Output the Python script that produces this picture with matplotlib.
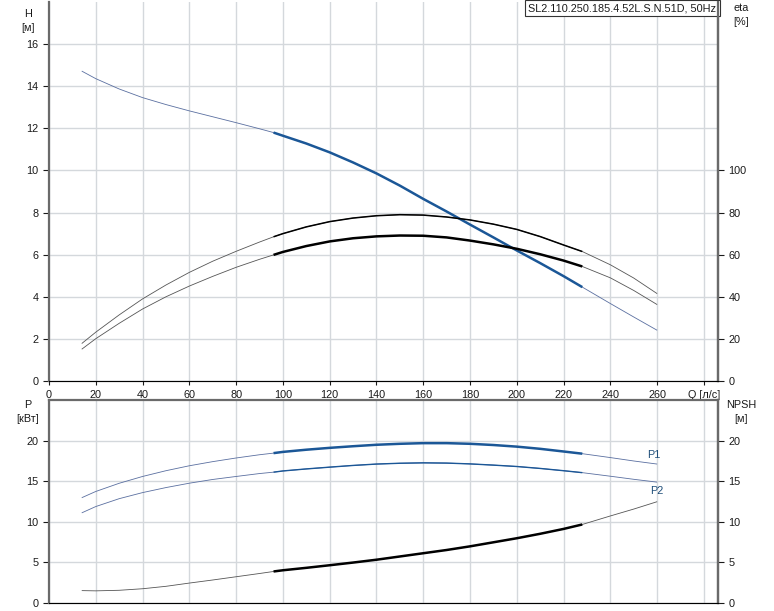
import matplotlib
matplotlib.use("Agg")
import matplotlib.pyplot as plt

plt.rcParams['font.family'] = ['Liberation Sans', 'DejaVu Sans']

# flow rate, l/s
q = [14, 20, 30, 40, 50, 60, 70, 80, 90, 96, 100, 110, 120, 130, 140, 150,
     160, 170, 180, 190, 200, 210, 220, 228, 240, 250, 260]

head = [14.72, 14.36, 13.87, 13.46, 13.13, 12.83, 12.55, 12.27, 11.98, 11.8,
        11.65, 11.28, 10.86, 10.38, 9.86, 9.28, 8.65, 8.05, 7.43, 6.82, 6.20,
        5.60, 4.98, 4.46, 3.68, 3.04, 2.41]

eta_pump = [17.8, 23.2, 31.4, 39.0, 45.6, 51.6, 56.9, 61.6, 66.0, 68.5, 70.0,
            73.2, 75.7, 77.4, 78.5, 79.0, 78.8, 77.9, 76.5, 74.5, 72.0, 68.6,
            64.6, 61.5, 55.2, 48.9, 41.5]

eta_total = [15.1, 20.1, 27.4, 34.2, 40.0, 45.1, 49.7, 54.0, 57.8, 59.9, 61.3,
             64.1, 66.3, 67.8, 68.7, 69.1, 69.0, 68.2, 66.7, 64.9, 62.8, 60.2,
             57.2, 54.4, 49.0, 43.0, 36.3]

p1 = [12.95, 13.72, 14.73, 15.57, 16.28, 16.89, 17.4, 17.85, 18.25, 18.45,
      18.6, 18.87, 19.1, 19.3, 19.48, 19.6, 19.68, 19.68, 19.6, 19.45, 19.25,
      18.98, 18.65, 18.38, 17.9, 17.48, 17.1]

p2 = [11.08, 11.86, 12.83, 13.58, 14.2, 14.74, 15.2, 15.57, 15.93, 16.1,
      16.25, 16.5, 16.72, 16.93, 17.1, 17.2, 17.25, 17.22, 17.12, 16.97, 16.8,
      16.56, 16.28, 16.04, 15.6, 15.22, 14.87]

npsh = [1.49, 1.46, 1.53, 1.72, 2.02, 2.42, 2.8, 3.2, 3.6, 3.85, 4.0, 4.3, 4.62,
        4.95, 5.3, 5.7, 6.1, 6.5, 6.95, 7.45, 7.95, 8.5, 9.1, 9.65, 10.7, 11.55,
        12.46]

title = "SL2.110.250.185.4.52L.S.N.51D, 50Hz"
x_ticks = [0, 20, 40, 60, 80, 100, 120, 140, 160, 180, 200, 220, 240, 260, 280]
x_labels = [str(v) for v in x_ticks[:-1]] + ["Q [л/с]"]

# operating range drawn thick
i0 = q.index(96)
i1 = q.index(228)

blue = "#1b5797"
thin_blue = "#5a6fa0"
black = "#000000"
thin_black = "#555555"
grid_c = "#d4d8dc"
spine_c = "#6a6a6a"
txt_c = "#1a1a1a"
fs = 7.8

fig = plt.figure(figsize=(7.74, 6.11), dpi=100)
ax1 = fig.add_axes([0.0633, 0.3764, 0.8643, 0.6203])
ax1r = ax1.twinx()
ax2 = fig.add_axes([0.0633, 0.0136, 0.8643, 0.3317])
ax2r = ax2.twinx()


def draw(ax, y, c_thin, c_thick, lw_thick):
    ax.plot(q, y, color=c_thin, lw=0.6, solid_capstyle='butt')
    ax.plot(q[i0:i1 + 1], y[i0:i1 + 1], color=c_thick, lw=lw_thick,
            solid_capstyle='butt')


for a in (ax1, ax2):
    a.set_xlim(0, 286)
    a.set_xticks(x_ticks)
    a.grid(True, color=grid_c, lw=1.0)
    a.set_axisbelow(True)
    for s in a.spines.values():
        s.set_color(spine_c)
    a.spines['left'].set_linewidth(1.6)
    a.spines['right'].set_linewidth(1.6)
    a.tick_params(labelsize=fs, colors=txt_c, length=4, width=0.8)
ax1.spines['top'].set_visible(False)
ax2.spines['top'].set_linewidth(1.6)

for a in (ax1r, ax2r):
    a.spines['top'].set_visible(False)
    a.spines['right'].set_color(spine_c)
    a.spines['right'].set_linewidth(1.6)
    a.spines['left'].set_visible(False)
    a.tick_params(labelsize=fs, colors=txt_c, length=4, width=0.8)

# top panel: head and efficiency
ax1.set_ylim(0, 18)
ax1.set_yticks(range(0, 17, 2))
ax1.set_xticklabels(x_labels)
ax1.tick_params(axis='x', length=3)
ax1r.set_ylim(0, 180)
ax1r.set_yticks(range(0, 101, 20))
draw(ax1, head, thin_blue, blue, 1.8)
draw(ax1r, eta_pump, thin_black, black, 1.1)
draw(ax1r, eta_total, thin_black, black, 1.8)

ax1.text(0.9975, 0.997, title, transform=ax1.transAxes, ha='right', va='top',
         fontsize=fs, color=txt_c,
         bbox=dict(boxstyle='square,pad=0.3', fc='white', ec='#333333', lw=0.8))

# bottom panel: power and NPSH
ax2.set_ylim(0, 25)
ax2.set_yticks(range(0, 21, 5))
ax2.tick_params(axis='x', labelbottom=False, length=0)
ax2r.set_ylim(0, 25)
ax2r.set_yticks(range(0, 21, 5))
draw(ax2, p1, thin_blue, blue, 1.8)
draw(ax2, p2, thin_blue, blue, 1.0)
draw(ax2r, npsh, thin_black, black, 1.8)

ax2.annotate("P1", (q[-1], p1[-1]), xytext=(-7, 3), textcoords='offset points',
             fontsize=fs, color="#1f4e79", ha='left', va='bottom')
ax2.annotate("P2", (q[-1], p2[-1]), xytext=(-5, -3), textcoords='offset points',
             fontsize=fs, color="#1f4e79", ha='left', va='top')

# axis captions
fig.text(28 / 774, 1 - 14 / 611, "H", fontsize=fs, color=txt_c, ha='center', va='center')
fig.text(28 / 774, 1 - 28 / 611, "[м]", fontsize=fs, color=txt_c, ha='center', va='center')
fig.text(741 / 774, 1 - 8 / 611, "eta", fontsize=fs, color=txt_c, ha='center', va='center')
fig.text(741 / 774, 1 - 22 / 611, "[%]", fontsize=fs, color=txt_c, ha='center', va='center')
fig.text(28 / 774, 1 - 405 / 611, "P", fontsize=fs, color=txt_c, ha='center', va='center')
fig.text(28 / 774, 1 - 419 / 611, "[кВт]", fontsize=fs, color=txt_c, ha='center', va='center')
fig.text(741 / 774, 1 - 405 / 611, "NPSH", fontsize=fs, color=txt_c, ha='center', va='center')
fig.text(741 / 774, 1 - 419 / 611, "[м]", fontsize=fs, color=txt_c, ha='center', va='center')

fig.savefig("out.png", dpi=100)
